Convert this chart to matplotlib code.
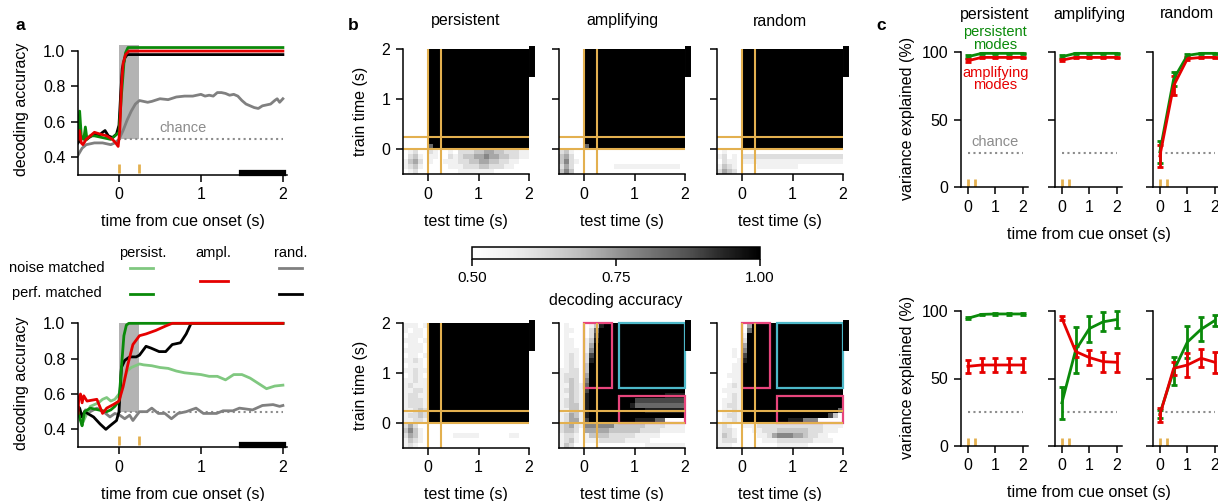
import numpy as np
import matplotlib
matplotlib.use("Agg")
import matplotlib.pyplot as plt
from matplotlib.lines import Line2D
from matplotlib.patches import Rectangle

plt.rcParams["font.family"] = ["Liberation Sans", "DejaVu Sans"]
plt.rcParams["font.size"] = 11
plt.rcParams["axes.linewidth"] = 1.1
plt.rcParams["xtick.major.width"] = 1.1
plt.rcParams["ytick.major.width"] = 1.1
plt.rcParams["xtick.major.size"] = 5
plt.rcParams["ytick.major.size"] = 5
plt.rcParams["xtick.major.pad"] = 4
plt.rcParams["ytick.major.pad"] = 4
plt.rcParams["xtick.labelsize"] = 11.5
plt.rcParams["ytick.labelsize"] = 11.5

W, H = 1218, 501

GREEN = "#0a8a0a"
LIGHT_GREEN = "#80c880"
RED = "#e60000"
GRAY = "#808080"
ORANGE = "#e3b04f"
PINK = "#e8457c"
CYAN = "#4db8c9"
SHADE = "#b3b3b3"

chance_acc = 0.5
chance_var = 25
cue_marks = [0.0, 0.25]
cue_window = [0.0, 0.25]
readout_window = [1.5, 2.0]
early_window = [0.0, 0.56]
late_window = [0.7, 2.0]
model_names = ["persistent", "amplifying", "random"]

# ---- panel a, top: decoding accuracy vs time
a1_green_t = [-0.5, -0.48, -0.46, -0.43, -0.41, -0.39, -0.35, -0.3, -0.2, -0.1, -0.05, 0.0, 0.03, 0.06, 0.08, 0.11, 2.0]
a1_green_v = [0.50, 0.66, 0.52, 0.50, 0.57, 0.50, 0.52, 0.52, 0.51, 0.50, 0.52, 0.54, 0.75, 0.93, 0.99, 1.02, 1.02]
a1_black_t = [-0.5, -0.45, -0.4, -0.3, -0.25, -0.2, -0.17, -0.13, -0.08, -0.03, 0.0, 0.02, 0.04, 0.07, 0.1, 2.0]
a1_black_v = [0.48, 0.51, 0.50, 0.53, 0.52, 0.54, 0.55, 0.52, 0.51, 0.53, 0.58, 0.75, 0.90, 0.96, 0.98, 0.98]
a1_red_t = [-0.5, -0.48, -0.46, -0.44, -0.4, -0.35, -0.3, -0.23, -0.15, -0.08, -0.04, -0.01, 0.01, 0.03, 0.05, 0.08, 0.12, 2.0]
a1_red_v = [0.50, 0.55, 0.48, 0.47, 0.50, 0.52, 0.54, 0.53, 0.52, 0.50, 0.48, 0.46, 0.55, 0.80, 0.93, 0.98, 1.0, 1.0]
a1_gray_t = [-0.5, -0.45, -0.4, -0.3, -0.2, -0.1, -0.05, 0.0, 0.05, 0.1, 0.15, 0.2, 0.25, 0.3, 0.35, 0.4,
             0.5, 0.6, 0.7, 0.8, 0.9, 0.95, 1.0, 1.05, 1.1, 1.15, 1.2, 1.25, 1.3, 1.35, 1.4, 1.45,
             1.5, 1.55, 1.6, 1.65, 1.7, 1.75, 1.8, 1.85, 1.9, 1.93, 1.96, 2.0]
a1_gray_v = [0.41, 0.45, 0.47, 0.48, 0.48, 0.47, 0.48, 0.50, 0.55, 0.61, 0.66, 0.70, 0.72, 0.715, 0.71, 0.715,
             0.73, 0.725, 0.74, 0.745, 0.745, 0.75, 0.755, 0.745, 0.75, 0.745, 0.765, 0.765, 0.76, 0.75, 0.755, 0.745,
             0.72, 0.70, 0.69, 0.68, 0.675, 0.69, 0.695, 0.70, 0.72, 0.73, 0.71, 0.73]

# ---- panel a, bottom
a2_lgreen_t = [-0.5, -0.47, -0.44, -0.4, -0.35, -0.3, -0.25, -0.2, -0.15, -0.1,
               -0.05, 0.0, 0.05, 0.1, 0.15, 0.2, 0.25, 0.3, 0.4, 0.5,
               0.6, 0.7, 0.8, 0.9, 1.0, 1.1, 1.2, 1.3, 1.4, 1.5, 1.6, 1.7, 1.8, 1.9, 2.0]
a2_lgreen_v = [0.50, 0.47, 0.44, 0.48, 0.53, 0.54, 0.55, 0.57, 0.58, 0.56,
               0.57, 0.60, 0.67, 0.73, 0.75, 0.76, 0.77, 0.765, 0.76, 0.75,
               0.745, 0.73, 0.72, 0.715, 0.71, 0.70, 0.70, 0.68, 0.71, 0.71, 0.69, 0.66, 0.63, 0.645, 0.65]
a2_green_t = [-0.5, -0.47, -0.45, -0.42, -0.35, -0.25, -0.15, -0.1, -0.05, 0.0, 0.03, 0.06, 0.09, 0.12, 2.0]
a2_green_v = [0.50, 0.45, 0.42, 0.50, 0.52, 0.51, 0.50, 0.51, 0.53, 0.56, 0.75, 0.93, 0.99, 1.0, 1.0]
a2_red_t = [-0.5, -0.49, -0.47, -0.45, -0.43, -0.39, -0.27, -0.2, -0.15, -0.07,
            0.0, 0.05, 0.11, 0.17, 0.25, 0.33, 0.45, 0.57, 0.65, 2.0]
a2_red_v = [0.49, 0.58, 0.60, 0.55, 0.59, 0.56, 0.57, 0.49, 0.52, 0.54,
            0.56, 0.64, 0.77, 0.88, 0.93, 0.94, 0.96, 0.985, 1.0, 1.0]
a2_black_t = [-0.5, -0.48, -0.45, -0.42, -0.31, -0.23, -0.16, -0.11, -0.03, 0.0, 0.03, 0.07,
              0.13, 0.21, 0.25, 0.33, 0.39, 0.49, 0.57, 0.65, 0.75, 0.82, 0.88, 2.0]
a2_black_v = [0.53, 0.52, 0.47, 0.50, 0.47, 0.43, 0.40, 0.42, 0.45, 0.50, 0.75, 0.79,
              0.81, 0.81, 0.82, 0.87, 0.86, 0.84, 0.84, 0.88, 0.89, 0.94, 1.0, 1.0]
a2_gray_t = [-0.5, -0.45, -0.41, -0.35, -0.27, -0.19, -0.11, -0.05, 0.01, 0.07,
             0.13, 0.17, 0.25, 0.34, 0.4, 0.48, 0.56, 0.64, 0.72, 0.82,
             0.94, 1.03, 1.19, 1.27, 1.39, 1.47, 1.63, 1.75, 1.88, 1.96, 2.0]
a2_gray_v = [0.52, 0.45, 0.51, 0.50, 0.52, 0.50, 0.47, 0.49, 0.48, 0.46,
             0.48, 0.45, 0.50, 0.50, 0.52, 0.49, 0.49, 0.46, 0.49, 0.50,
             0.52, 0.49, 0.49, 0.505, 0.505, 0.52, 0.51, 0.535, 0.54, 0.53, 0.535]

# ---- panel b: cross-temporal decoding, 0.1 s bins from -0.5 to 2 s
# rows: train time from 2.0 (top) down to -0.5; columns: test time -0.5 .. 2.0
# digit d -> accuracy 0.5 + d/18
FULL = " 99999 99999 99999 99999"
hm_top_persistent = ["00000" + FULL] * 19 + [
    "00000 69999 99999 99999 99999",
    "01200 21001 02223 34433 22211",
    "02310 11002 12334 45443 32211",
    "13420 10011 12233 44332 21100",
    "12310 00001 11222 33222 11000",
    "01200 00000 01111 11100 00000",
]
hm_top_amplifying = ["00000" + FULL] * 19 + [
    "00000 69999 99999 99999 99999",
    "23100 00000 00000 00000 00000",
    "34200 00000 00000 00000 00000",
    "35210 00000 00000 00000 00000",
    "24200 00000 01111 11111 11110",
    "35300 00000 00000 00000 00000",
]
hm_top_random = ["00000" + FULL] * 20 + [
    "01000 00000 00000 00000 00000",
    "12010 22222 22222 22222 22222",
    "02110 11111 11111 11111 11111",
    "13210 00011 11111 10000 00000",
    "24320 00000 00000 00000 00000",
]
hm_bot_persistent = [
    "11101" + FULL, "10110" + FULL, "01110" + FULL, "11101" + FULL, "01110" + FULL,
    "11110" + FULL, "01101" + FULL, "11210" + FULL, "01110" + FULL, "11211" + FULL,
    "01210" + FULL, "11211" + FULL, "12111" + FULL, "11221" + FULL, "12211" + FULL,
    "12221" + FULL, "12221" + FULL, "11232" + FULL, "12232" + FULL, "11221" + FULL,
    "24200 00000 00000 00000 00000",
    "35310 00000 00000 00000 00000",
    "24310 00000 11111 00000 01100",
    "13210 00000 00000 00000 00000",
    "12100 00000 00000 00000 00000",
]
hm_bot_amplifying = [
    "01000 01389 99999 99999 99999",
    "01100 02699 99999 99999 99999",
    "01000 02799 99999 99999 99999",
    "01100 13899 99999 99999 99999",
    "01100 14999 99999 99999 99999",
    "01110 15999 99999 99999 99999",
    "01210 27999 99999 99999 99999",
    "01210 28999 99999 99999 99999",
    "01210 39999 99999 99999 99999",
    "11220 39999 99999 99999 99999",
    "12220 49999 99999 99999 99999",
    "12320 59999 99999 99999 99999",
    "11321 69999 99999 99999 99999",
    "12321 79999 99999 99999 99999",
    "11321 89999 99999 99999 98888",
    "12321 89999 99999 77777 77777",
    "12331 89999 99998 66666 66666",
    "11331 89999 99999 99888 88888",
    "12431 89999 99999 99999 99999",
    "12441 79999 99999 88886 60000",
    "23421 55555 53333 33222 21111",
    "23320 44444 33333 32222 11111",
    "12210 13333 22222 11111 00000",
    "12310 11122 22211 11100 00000",
    "13200 00000 00000 00111 11111",
]
hm_bot_random = [
    "00000 04999 99999 99999 99999",
    "00000 06999 99999 99999 99999",
    "00000 19999 99999 99999 99999",
    "00000 29999 99999 99999 99999",
    "00000 49999 99999 99999 99999",
    "00010 59999 99999 99999 99999",
    "00010 79999 99999 99999 99999",
    "00001 89999 99999 99999 99999",
    "00011" + FULL, "00011" + FULL, "00111" + FULL, "00011" + FULL, "00121" + FULL,
    "01111" + FULL, "00121" + FULL, "01121" + FULL, "01221" + FULL,
    "01121 99999 99999 99999 99996",
    "01221 99999 99999 99999 99730",
    "01121 99999 99998 88555 00000",
    "12100 11122 22222 22222 21111",
    "12210 00112 22333 33322 21110",
    "13210 00011 24555 44322 11000",
    "12220 00001 11222 22221 11100",
    "11100 00000 00111 11100 00000",
]

# ---- panel c: variance explained (%) at 0, 0.5, 1, 1.5, 2 s
c_times = [0, 0.5, 1, 1.5, 2]
c_top_green = [[96.5, 99, 99, 99, 99], [96.5, 99, 99, 99, 99], [26, 80, 97.5, 99, 99]]
c_top_green_err = [[1, 0.5, 0.5, 0.5, 0.5], [1, 0.5, 0.5, 0.5, 0.5], [8, 5, 1, 0.5, 0.5]]
c_top_red = [[93.5, 96, 96, 96, 96], [94, 96, 96, 96, 96], [23, 75, 95, 96, 96]]
c_top_red_err = [[1, 0.5, 0.5, 0.5, 0.5], [1, 0.5, 0.5, 0.5, 0.5], [8, 7, 1, 0.5, 0.5]]
c_bot_green = [[94.6, 97.5, 97.8, 97.8, 97.8], [32, 71, 87, 92, 93.7], [24, 55.7, 77, 86.5, 93]]
c_bot_green_err = [[0.8, 0.5, 0.5, 0.5, 0.5], [12, 17, 9.6, 7, 6], [3, 10.5, 12, 9, 4]]
c_bot_red = [[59, 60, 60, 60, 60], [94.6, 70, 65.5, 62.5, 62], [23, 57.5, 60, 65, 62]]
c_bot_red_err = [[5, 5, 5, 5, 5], [1.5, 4, 5.5, 7.5, 7], [5, 5, 8.6, 6.5, 8]]


def decode(rows):
    grid = np.array([[0.5 + int(ch) / 18 for ch in r.replace(" ", "")] for r in rows])
    assert grid.shape == (25, 25), grid.shape
    return grid


def place(x0, y0, x1, y1):
    return fig.add_axes([x0 / W, 1 - y1 / H, (x1 - x0) / W, (y1 - y0) / H])


def ftext(x, y, s, **kw):
    kw.setdefault("ha", "center")
    kw.setdefault("va", "center")
    fig.text(x / W, 1 - y / H, s, **kw)


def xlabel_px(ax, s, h_px, off=47):
    ax.set_xlabel(s, fontsize=11.5, va="center")
    ax.xaxis.set_label_coords(0.5, -off / h_px)


def ylabel_px(ax, s, w_px, off):
    ax.set_ylabel(s, fontsize=11.5, va="center")
    ax.yaxis.set_label_coords(-off / w_px, 0.5)


def clean(ax):
    ax.spines["top"].set_visible(False)
    ax.spines["right"].set_visible(False)


fig = plt.figure(figsize=(W / 100, H / 100), dpi=100)

# ---------------- panel a
a_series = [
    [(a1_gray_t, a1_gray_v, GRAY), (a1_black_t, a1_black_v, "black"),
     (a1_green_t, a1_green_v, GREEN), (a1_red_t, a1_red_v, RED)],
    [(a2_gray_t, a2_gray_v, GRAY), (a2_lgreen_t, a2_lgreen_v, LIGHT_GREEN),
     (a2_black_t, a2_black_v, "black"), (a2_green_t, a2_green_v, GREEN),
     (a2_red_t, a2_red_v, RED)],
]
a_boxes = [(44, 174.7), (319.8, 447)]
a_ytop = [1.04, 1.02]
a_shade_top = [1.035, 1.0]
for i in range(2):
    y0, y1 = a_boxes[i]
    ax = place(78, y0, 287, y1)
    ax.fill_between(cue_window, chance_acc, a_shade_top[i], color=SHADE, lw=0, zorder=0)
    ax.hlines(chance_acc, 0, 2, colors="#8c8c8c", linestyles=(0, (1, 1.6)), lw=1.5, zorder=1)
    for t, v, c in a_series[i]:
        ax.plot(t, v, color=c, lw=2, zorder=2)
    ax.vlines(cue_marks, 0.31, 0.36, colors=ORANGE, lw=2)
    bar = ax.hlines(0.31, readout_window[0], readout_window[1], colors="black", lw=4.5, clip_on=False)
    bar.set_capstyle("projecting")
    ax.set_xlim(-0.5, 2.05)
    ax.set_ylim(0.3, a_ytop[i])
    ax.set_xticks([0, 1, 2])
    ax.set_yticks([0.4, 0.6, 0.8, 1.0])
    ax.set_yticklabels(["0.4", "0.6", "0.8", "1.0"])
    clean(ax)
    ax.spines["left"].set_bounds(0.3, 1.0)
    xlabel_px(ax, "time from cue onset (s)", y1 - y0)
    ylabel_px(ax, "decoding accuracy", 209, 56)
    if i == 0:
        ax.text(0.78, 0.565, "chance", color="#8c8c8c", ha="center", va="center", fontsize=10.5)

# legend block between the two a panels
ftext(143, 253, "persist.", fontsize=10.5)
ftext(213, 253, "ampl.", fontsize=10.5)
ftext(291, 253, "rand.", fontsize=10.5)
ftext(57, 268, "noise matched", fontsize=10.5)
ftext(57, 293, "perf. matched", fontsize=10.5)
for (x0, x1, y, c) in [(130, 153, 268, LIGHT_GREEN), (200, 228, 281, RED), (279, 302, 268, GRAY),
                       (130, 153, 294, GREEN), (279, 302, 294, "black")]:
    fig.add_artist(Line2D([x0 / W, x1 / W], [1 - y / H, 1 - y / H], color=c, lw=2))

# ---------------- panel b
hm_rows = [[hm_top_persistent, hm_top_amplifying, hm_top_random],
           [hm_bot_persistent, hm_bot_amplifying, hm_bot_random]]
hm_lefts = [403, 559, 717]
hm_y = [(49, 174), (323, 448)]
im = None
for r in range(2):
    y0, y1 = hm_y[r]
    for k in range(3):
        ax = place(hm_lefts[k], y0, hm_lefts[k] + 126, y1)
        im = ax.imshow(decode(hm_rows[r][k]), cmap="Greys", vmin=0.5, vmax=1.0,
                       extent=(-0.5, 2, -0.5, 2), origin="upper",
                       interpolation="nearest", aspect="auto")
        for c in cue_marks:
            ax.axhline(c, color=ORANGE, lw=1.5)
            ax.axvline(c, color=ORANGE, lw=1.5)
        bar = ax.vlines(2.065, readout_window[0], readout_window[1], colors="black", lw=4.3, clip_on=False)
        bar.set_capstyle("projecting")
        if r == 1 and k > 0:
            ax.add_patch(Rectangle((early_window[0], late_window[0]), early_window[1] - early_window[0],
                                   late_window[1] - late_window[0], fill=False, ec=PINK, lw=1.6, clip_on=False))
            ax.add_patch(Rectangle((late_window[0], early_window[0]), late_window[1] - late_window[0],
                                   early_window[1] - early_window[0] - 0.01, fill=False, ec=PINK, lw=1.6, clip_on=False))
            ax.add_patch(Rectangle((late_window[0], late_window[0]), late_window[1] - late_window[0],
                                   late_window[1] - late_window[0], fill=False, ec=CYAN, lw=1.6, clip_on=False))
        ax.set_xlim(-0.5, 2)
        ax.set_ylim(-0.5, 2)
        ax.set_xticks([0, 1, 2])
        ax.set_yticks([0, 1, 2])
        clean(ax)
        if k > 0:
            ax.set_yticklabels([])
        else:
            ylabel_px(ax, "train time (s)", 126, 42)
        xlabel_px(ax, "test time (s)", 125)
        if r == 0:
            ftext(hm_lefts[k] + 63, 21, model_names[k], fontsize=11.5)

cax = place(472, 247, 760, 259)
cb = fig.colorbar(im, cax=cax, orientation="horizontal", ticks=[0.5, 0.75, 1.0])
cb.ax.set_xticklabels(["0.50", "0.75", "1.00"])
cb.ax.tick_params(labelsize=11, length=5)
cb.outline.set_linewidth(1.1)
ftext(616, 301, "decoding accuracy", fontsize=11.5)

# ---------------- panel c
c_lefts = [961, 1055, 1153]
c_y = [(49.3, 187), (308.3, 446)]
c_data = [(c_top_green, c_top_green_err, c_top_red, c_top_red_err),
          (c_bot_green, c_bot_green_err, c_bot_red, c_bot_red_err)]
for r in range(2):
    y0, y1 = c_y[r]
    g, ge, rd, re_ = c_data[r]
    for k in range(3):
        ax = place(c_lefts[k], y0, c_lefts[k] + 67.4, y1)
        ax.hlines(chance_var, 0, 2, colors="#8c8c8c", linestyles=(0, (1, 1.6)), lw=1.5)
        ax.vlines(cue_marks, 0, 6, colors=ORANGE, lw=2)
        ax.errorbar(c_times, g[k], yerr=ge[k], color=GREEN, lw=2, capsize=2, capthick=2, elinewidth=2)
        ax.errorbar(c_times, rd[k], yerr=re_[k], color=RED, lw=2, capsize=2, capthick=2, elinewidth=2)
        ax.set_xlim(-0.25, 2.2)
        ax.set_ylim(0, 102)
        ax.set_xticks([0, 1, 2])
        ax.set_yticks([0, 50, 100])
        clean(ax)
        ax.spines["left"].set_bounds(0, 100)
        if k == 0:
            ylabel_px(ax, "variance explained (%)", 67.4, 53)
        else:
            ax.set_yticklabels([])
        if k == 1:
            xlabel_px(ax, "time from cue onset (s)", y1 - y0)
        if r == 0:
            ftext(c_lefts[k] + 34, 14, model_names[k], fontsize=11.5)
        if r == 0 and k == 0:
            ax.text(1.0, 110, "persistent\nmodes", color=GREEN, ha="center", va="center",
                    fontsize=10.5, linespacing=0.85)
            ax.text(1.0, 80, "amplifying\nmodes", color=RED, ha="center", va="center",
                    fontsize=10.5, linespacing=0.85)
            ax.text(1.0, 33, "chance", color="#8c8c8c", ha="center", va="center", fontsize=10.5)

# panel letters
ftext(20, 25, "a", fontsize=12.5, weight="bold")
ftext(353, 25, "b", fontsize=12.5, weight="bold")
ftext(881, 26, "c", fontsize=12.5, weight="bold")

fig.savefig("out.png", dpi=100)
